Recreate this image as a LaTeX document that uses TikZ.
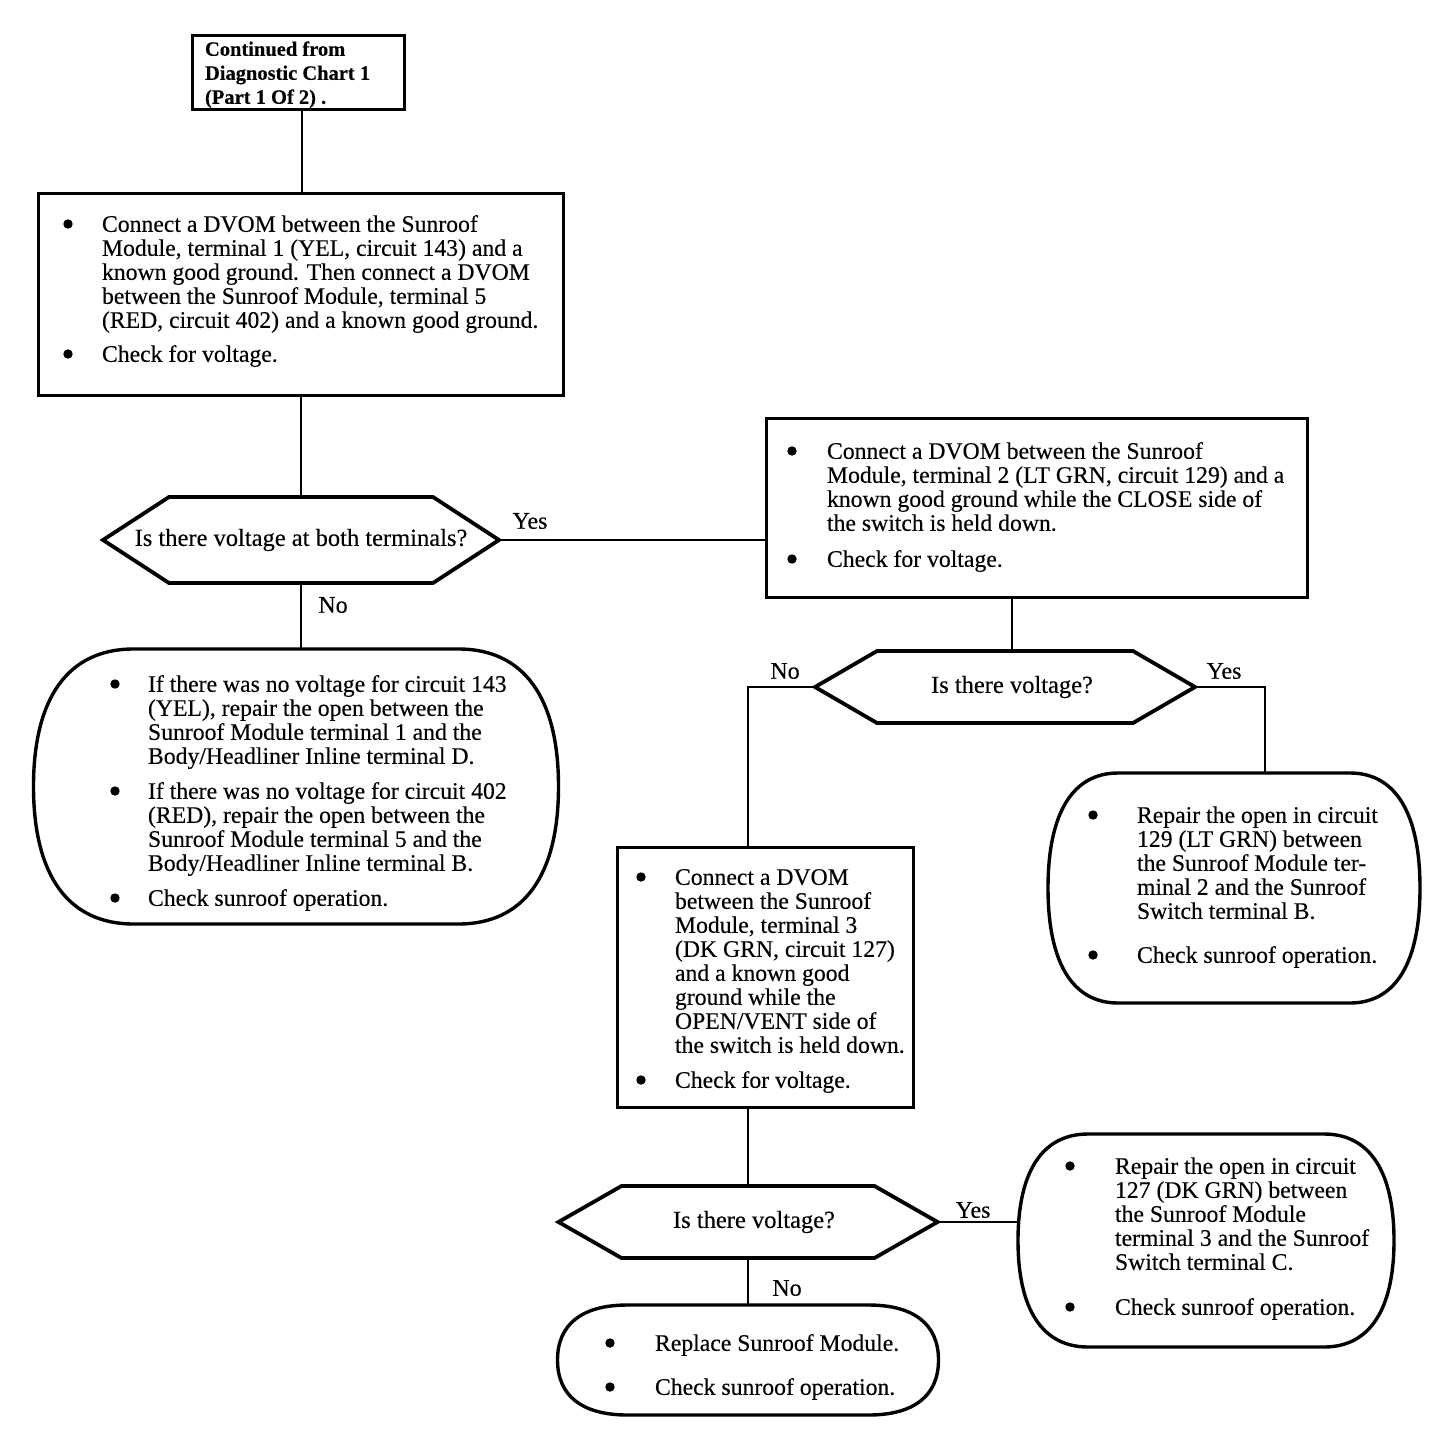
\documentclass[tikz,border=0pt]{standalone}
\usepackage{fontspec}
\setmainfont[FakeBold=0.25]{Liberation Serif}
\usetikzlibrary{calc}
\newcommand{\dotb}{\tikz[baseline=-7.8pt]\fill[black] (0pt,0pt) circle (4.7pt);}
\newcommand{\bul}[1]{\makebox[0pt][r]{\makebox[0pt][c]{\dotb}\hspace{#1pt}}}
\newcommand{\rbox}[3]{%
\draw[rline]
 ($(#1.north west)+(#2,0)$) -- ($(#1.north east)+(-#2,0)$)
 .. controls ($(#1.north east)+(-0.35*#2,0)$) and ($(#1.east)+(0,-0.65*#3)$) .. (#1.east)
 .. controls ($(#1.east)+(0,0.65*#3)$) and ($(#1.south east)+(-0.35*#2,0)$) .. ($(#1.south east)+(-#2,0)$)
 -- ($(#1.south west)+(#2,0)$)
 .. controls ($(#1.south west)+(0.35*#2,0)$) and ($(#1.west)+(0,0.65*#3)$) .. (#1.west)
 .. controls ($(#1.west)+(0,-0.65*#3)$) and ($(#1.north west)+(0.35*#2,0)$) .. ($(#1.north west)+(#2,0)$)
 -- cycle;}
\newcommand{\hexa}[2]{%
\draw[hline] (#1.west) -- ($(#1.north west)+(#2,0)$) -- ($(#1.north east)+(-#2,0)$)
 -- (#1.east) -- ($(#1.south east)+(-#2,0)$) -- ($(#1.south west)+(#2,0)$) -- cycle;}
\tikzset{
  shape box/.style={rectangle, inner sep=0pt, outer sep=0pt},
  sqbox/.style={shape box, draw, line width=3pt},
  hexbox/.style={shape box, font=\fontsize{24.5}{24}\selectfont},
  rline/.style={line width=3.4pt, line join=round},
  hline/.style={line width=3.8pt, line join=miter},
  conn/.style={line width=1.6pt},
  txt/.style={inner sep=0pt, outer sep=0pt, anchor=north west, align=left, font=\fontsize{23.7}{24}\selectfont},
  lbl/.style={inner sep=0pt, font=\fontsize{24}{24}\selectfont},
}
\begin{document}
\begin{tikzpicture}[x=1pt,y=-1pt]
\fill[white] (0,0) rectangle (1456,1448);
\useasboundingbox (0,0) rectangle (1456,1448);

% shapes
\node[sqbox, minimum width=212pt, minimum height=74pt] (tb) at (298,72) {};
\node[sqbox, minimum width=525pt, minimum height=202pt] (b2) at (300.5,294) {};
\node[hexbox, minimum width=396pt, minimum height=86pt] (h1) at (301,540) {Is there voltage at both terminals?};
\hexa{h1}{66}
\node[shape box, minimum width=525pt, minimum height=275pt] (lr) at (296,786.5) {};
\rbox{lr}{100}{137.5}
\node[sqbox, minimum width=541pt, minimum height=179pt] (b3) at (1036.5,507.5) {};
\node[hexbox, minimum width=380pt, minimum height=72pt] (h2) at (1005,687) {\hspace*{14pt}Is there voltage?};
\hexa{h2}{62}
\node[shape box, minimum width=372pt, minimum height=230pt] (rr1) at (1234,888) {};
\rbox{rr1}{70}{115}
\node[sqbox, minimum width=296pt, minimum height=260pt] (b4) at (765,977) {};
\node[hexbox, minimum width=379pt, minimum height=72pt] (h3) at (748,1222) {\hspace*{12pt}Is there voltage?};
\hexa{h3}{63}
\node[shape box, minimum width=376pt, minimum height=213pt] (rr2) at (1206,1240.5) {};
\rbox{rr2}{70}{106.5}
\node[shape box, minimum width=381pt, minimum height=110pt] (bt) at (748,1360) {};
\rbox{bt}{70}{55}

% texts
\node[txt, font=\fontsize{20.5}{24}\selectfont\bfseries] (tbt) at (205,39) {%
\begin{tabular}{@{}l@{}}Continued from\\ Diagnostic Chart 1\\ (Part 1 Of 2) .\end{tabular}};

\node[txt] (b2t) at (102,215) {%
\begin{tabular}{@{}l@{}}
\bul{34}Connect a DVOM between the Sunroof\\
Module, terminal 1 (YEL, circuit 143) and a\\
known good ground. Then connect a DVOM\\
between the Sunroof Module, terminal 5\\
(RED, circuit 402) and a known good ground.\\[10pt]
\bul{34}Check for voltage.
\end{tabular}};

\node[txt] (lrt) at (148,675) {%
\begin{tabular}{@{}l@{}}
\bul{33}If there was no voltage for circuit 143\\
(YEL), repair the open between the\\
Sunroof Module terminal 1 and the\\
Body/Headliner Inline terminal D.\\[11pt]
\bul{33}If there was no voltage for circuit 402\\
(RED), repair the open between the\\
Sunroof Module terminal 5 and the\\
Body/Headliner Inline terminal B.\\[11pt]
\bul{33}Check sunroof operation.
\end{tabular}};

\node[txt] (b3t) at (827,442) {%
\begin{tabular}{@{}l@{}}
\bul{35}Connect a DVOM between the Sunroof\\
Module, terminal 2 (LT GRN, circuit 129) and a\\
known good ground while the CLOSE side of\\
the switch is held down.\\[12pt]
\bul{35}Check for voltage.
\end{tabular}};

\node[txt] (rr1t) at (1137,806) {%
\begin{tabular}{@{}l@{}}
\bul{44}Repair the open in circuit\\
129 (LT GRN) between\\
the Sunroof Module ter-\\
minal 2 and the Sunroof\\
Switch terminal B.\\[20pt]
\bul{44}Check sunroof operation.
\end{tabular}};

\node[txt] (b4t) at (675,868) {%
\begin{tabular}{@{}l@{}}
\bul{34}Connect a DVOM\\
between the Sunroof\\
Module, terminal 3\\
(DK GRN, circuit 127)\\
and a known good\\
ground while the\\
OPEN/VENT side of\\
the switch is held down.\\[11pt]
\bul{34}Check for voltage.
\end{tabular}};

\node[txt] (rr2t) at (1115,1157) {%
\begin{tabular}{@{}l@{}}
\bul{45}Repair the open in circuit\\
127 (DK GRN) between\\
the Sunroof Module\\
terminal 3 and the Sunroof\\
Switch terminal C.\\[21pt]
\bul{45}Check sunroof operation.
\end{tabular}};

\node[txt] (btt) at (655,1334) {%
\begin{tabular}{@{}l@{}}
\bul{45}Replace Sunroof Module.\\[20pt]
\bul{45}Check sunroof operation.
\end{tabular}};

% connectors
\draw[conn] ([xshift=4pt]tb.south) -- ([xshift=4pt]tb.south |- b2.north);
\draw[conn] (b2.south -| h1.north) -- (h1.north);
\draw[conn] (h1.south) -- (lr.north -| h1.south);
\draw[conn] (h1.east) -- (h1.east -| b3.west);
\draw[conn] ([xshift=7pt]h2.north |- b3.south) -- ([xshift=7pt]h2.north);
\draw[conn] (h2.west) -| (b4.north -| h3.north);
\draw[conn] (h2.east) -| ([xshift=31pt]rr1.north);
\draw[conn] (b4.south -| h3.north) -- (h3.north);
\draw[conn] (h3.east) -- (h3.east -| rr2.west);
\draw[conn] (h3.south) -- (bt.north);

% labels
\node[lbl] (y1) at (530,521) {Yes};
\node[lbl] (n1) at (333,605) {No};
\node[lbl] (n2) at (785,671) {No};
\node[lbl] (y2) at (1224,671) {Yes};
\node[lbl] (y3) at (973,1210) {Yes};
\node[lbl] (n3) at (787,1288) {No};
\end{tikzpicture}
\end{document}
